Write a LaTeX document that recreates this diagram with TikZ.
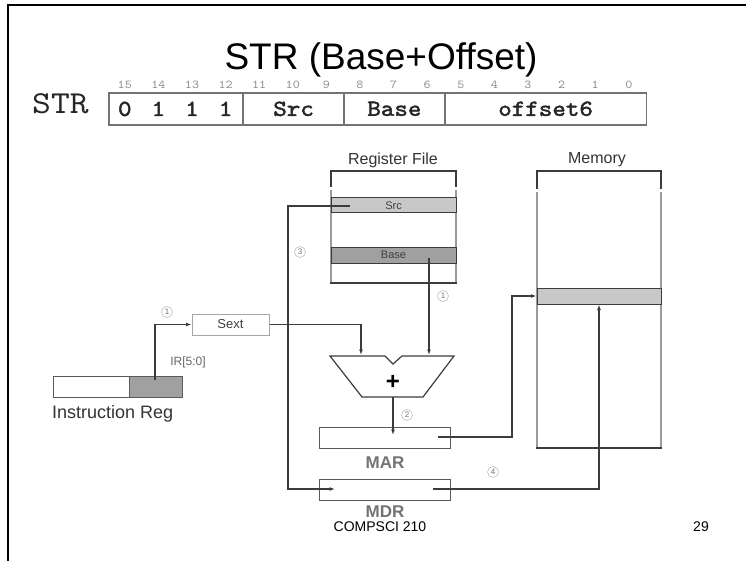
\documentclass[tikz,border=0pt]{standalone}
\usepackage{fontspec}
\setmainfont{Liberation Sans}
\newfontfamily\cour{lmmono10-regular.otf}[FakeStretch=1.12]
\newfontfamily\courb{lmmono10-regular.otf}[FakeStretch=1.12, FakeBold=2]
\usetikzlibrary{arrows.meta}
\definecolor{lgray}{HTML}{C8C8C8}
\definecolor{dgray}{HTML}{A0A0A0}
\definecolor{ln}{HTML}{3C3C3C}
\definecolor{bx}{HTML}{5A5A5A}
\definecolor{side}{HTML}{9A9A9A}
\begin{document}
\begin{tikzpicture}[x=1pt,y=-1pt,
  conn/.style={draw=ln, line width=1.1pt},
  arr/.style={conn, -{Latex[length=5.5pt,width=4pt]}},
  boxnode/.style={draw=bx, line width=1.4pt, inner sep=0pt},
  fieldbox/.style={draw=black!55, line width=1.6pt, inner sep=0pt, minimum height=32pt, font=\courb\fontsize{23}{23}\selectfont, text=black!85},
  bitnum/.style={font=\cour\fontsize{12}{12}\selectfont, text=black!45, inner sep=0pt, anchor=base},
  lbl/.style={font=\fontsize{16}{16}\selectfont, text=black!80, inner sep=0pt},
  circ/.style={circle, draw=black!35, inner sep=0pt, minimum size=11pt, font=\fontsize{8}{8}\selectfont, text=black!55},
  sideline/.style={draw=side, line width=2.4pt}
]
\useasboundingbox (0,0) rectangle (746,561);
\draw[line width=2.2pt] (8,561) -- (8,5) -- (746,5);

% title
\node[font=\fontsize{37}{37}\selectfont, anchor=base, inner sep=0pt] (title) at (381,70) {STR (Base+Offset)};

% instruction format
\node[font=\cour\fontsize{32}{32}\selectfont, anchor=base west, inner sep=0pt, text=black!85] (strlbl) at (32,114) {STR};
\node[fieldbox, minimum width=134.4pt, anchor=north west] (f1) at (108,92) {};
\node[fieldbox, minimum width=100.8pt, anchor=north west] (f2) at (242.4,92) {Src};
\node[fieldbox, minimum width=100.8pt, anchor=north west] (f3) at (343.2,92) {Base};
\node[fieldbox, minimum width=201.6pt, anchor=north west] (f4) at (444,92) {offset6};
\foreach \d/\i in {0/0,1/1,1/2,1/3} {
  \node[font=\courb\fontsize{23}{23}\selectfont, text=black!85, inner sep=0pt, anchor=base] (d\i) at ({124.8+33.6*\i},116) {\d};
}
\foreach \b in {0,...,15} {
  \node[bitnum] (bit\b) at ({108+33.6*(15-\b)+16.8},89) {\b};
}

% register file
\node[lbl] (rflbl) at (393,160) {Register File};
\draw[conn] (331,187) -- (331,171) -- (456,171) -- (456,187);
\draw[sideline] (331,190) -- (331,283);
\draw[sideline] (456,190) -- (456,283);
\draw[conn] (330,283) -- (457,283);
\node[draw=ln, line width=1pt, fill=lgray, minimum width=125pt, minimum height=15pt, inner sep=0pt, font=\fontsize{11}{11}\selectfont, text=black!75] (src) at (393.5,205.5) {Src};
\node[draw=ln, line width=1pt, fill=dgray, minimum width=125pt, minimum height=16pt, inner sep=0pt, font=\fontsize{11}{11}\selectfont, text=black!75] (base) at (393.5,255) {Base};

% memory
\node[lbl] (memlbl) at (597,160) {Memory};
\draw[conn] (537,189) -- (537,171) -- (661,171) -- (661,189);
\draw[sideline] (537,192) -- (537,448);
\draw[sideline] (661,192) -- (661,448);
\draw[conn] (536,448) -- (662,448);
\node[draw=ln, line width=1pt, fill=lgray, minimum width=124pt, minimum height=16pt, inner sep=0pt] (memrow) at (599,296) {};

% instruction register
\node[boxnode, minimum width=76pt, minimum height=21pt, anchor=north west] (ir1) at (53,376) {};
\node[boxnode, fill=dgray, minimum width=53pt, minimum height=21pt, anchor=north west] (ir2) at (129,376) {};
\node[lbl, font=\fontsize{18}{18}\selectfont, anchor=west] (irlbl) at (52,414) {Instruction Reg};
\node[lbl, font=\fontsize{12}{12}\selectfont, text=black!60] (irfield) at (188,362) {IR[5:0]};

% sext
\node[draw=black!35, line width=1pt, minimum width=77pt, minimum height=21pt, inner sep=0pt, font=\fontsize{13}{13}\selectfont, text=black!75] (sext) at (230.5,324.5) {Sext};

% adder
\draw[draw=ln, line width=1.2pt, fill=white] (330,356) -- (385,356) -- (393,364) -- (402,356) -- (454,356) -- (423,397) -- (362,397) -- cycle;
\node[font=\bfseries\fontsize{24}{24}\selectfont, inner sep=0pt] (plus) at (393,382) {+};
\coordinate (aluL) at (361,355);
\coordinate (aluR) at (429,355);
\coordinate (aluO) at (393,397);

% MAR / MDR
\node[boxnode, minimum width=131pt, minimum height=21pt, anchor=north west] (mar) at (319,427) {};
\node[lbl, font=\bfseries\fontsize{17}{17}\selectfont, text=black!55] (marlbl) at (385,463) {MAR};
\node[boxnode, minimum width=131pt, minimum height=21pt, anchor=north west] (mdr) at (319,479) {};
\node[lbl, font=\bfseries\fontsize{17}{17}\selectfont, text=black!55] (mdrlbl) at (385,512) {MDR};

% connectors
\coordinate (irtap) at (155,380);
\draw[arr] (irtap) |- (sext.west);
\draw[arr] (sext.east) -| (aluL);
\coordinate (basetap) at (429,258);
\draw[arr] (basetap) -- (aluR);
\coordinate (martap) at (393,435);
\draw[arr] (aluO) -- (martap);
\coordinate (marout) at (438,437);
\coordinate (marbend) at (512,437);
\draw[arr] (marout) -- (marbend) |- (memrow.west);
\coordinate (srctap) at (350,206);
\coordinate (srcbend) at (288,206);
\coordinate (mdrin) at (335,489);
\draw[arr] (srctap) -- (srcbend) |- (mdrin);
\coordinate (mdrout) at (433,489);
\draw[arr] (mdrout) -| (memrow.south);

% step numbers
\node[circ] (s1a) at (167,312) {1};
\node[circ] (s1b) at (443,296) {1};
\node[circ] (s2) at (407,415) {2};
\node[circ] (s3) at (300,252) {3};
\node[circ] (s4) at (493,472) {4};

% footer
\node[font=\fontsize{14}{14}\selectfont, inner sep=0pt] (footer) at (380,527) {COMPSCI 210};
\node[font=\fontsize{14}{14}\selectfont, inner sep=0pt] (page) at (701,527) {29};
\end{tikzpicture}
\end{document}
